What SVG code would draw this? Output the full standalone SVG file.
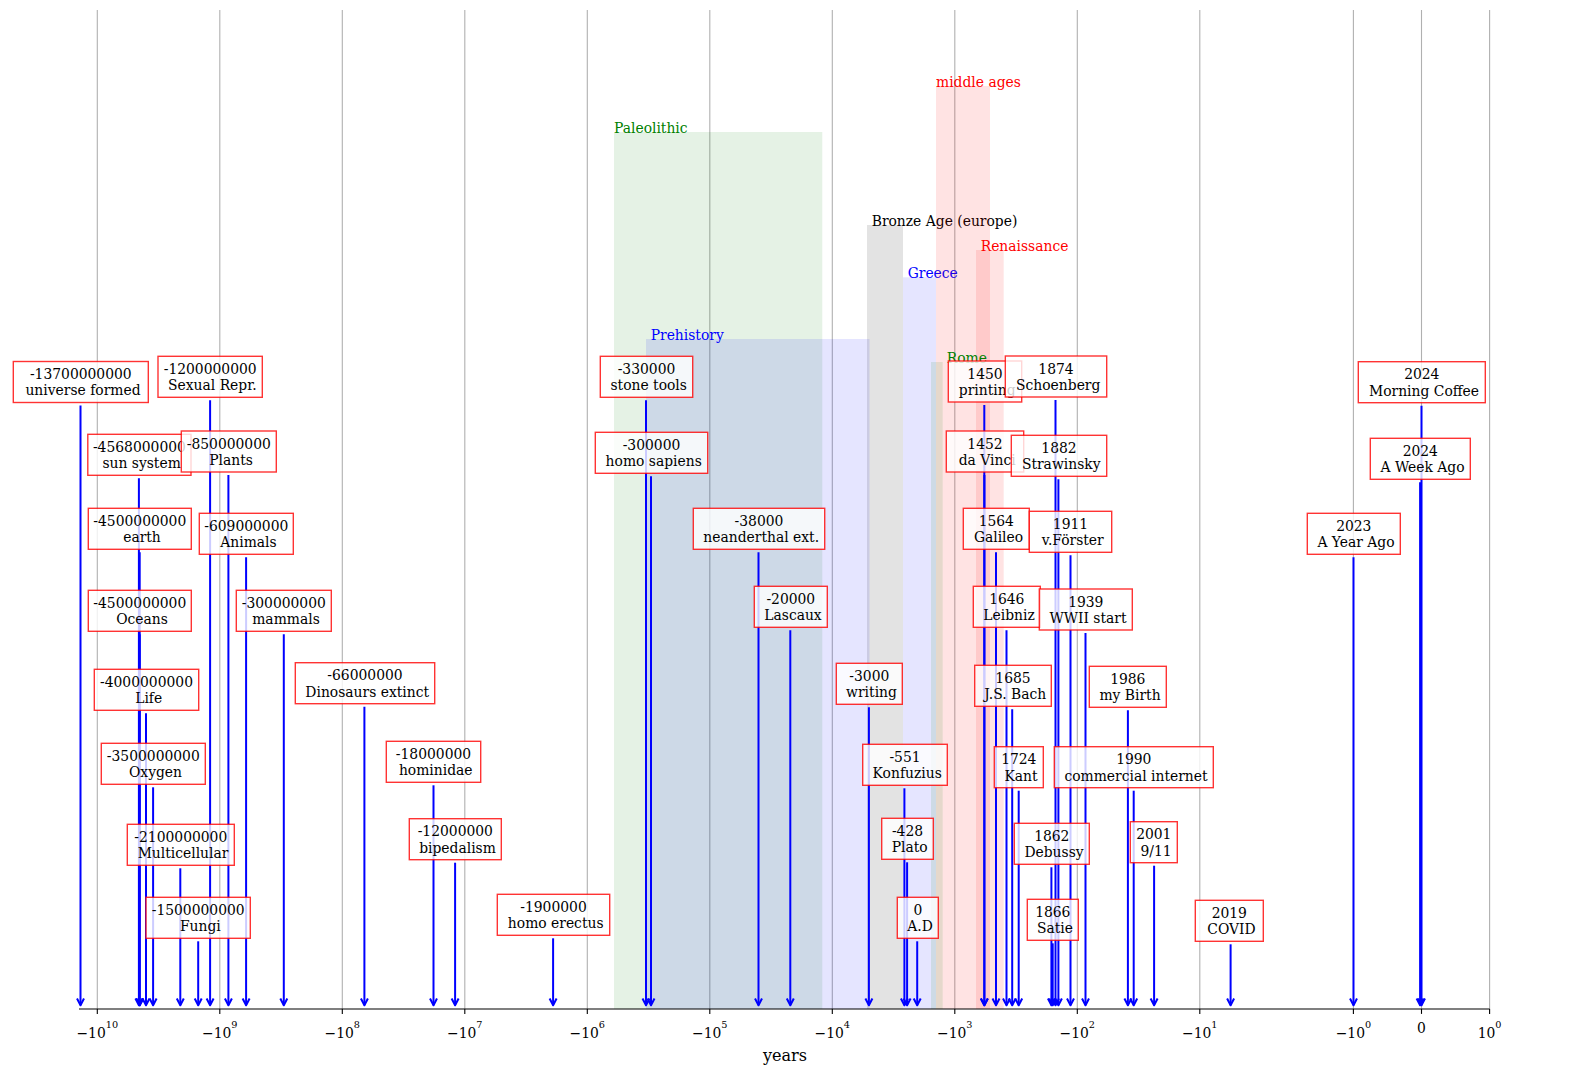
<svg xmlns="http://www.w3.org/2000/svg" width="1570" height="1074" viewBox="0 0 1570 1074">
<style>
text { font-family: "DejaVu Serif", "Liberation Serif", serif; font-size: 13.89px; }
.box rect { fill: #ffffff; fill-opacity: 0.8; stroke: #ff0000; stroke-opacity: 0.8; stroke-width: 1.4; }
.box text { fill: #000; text-anchor: middle; }
.conn line { stroke: #0000ff; stroke-width: 2; marker-end: url(#ah); }
.grid line { stroke: #b0b0b0; stroke-width: 1.1; }
.ticks line { stroke: #000; stroke-width: 1.1; }
.tl { text-anchor: middle; fill: #000; }
.sup { font-size: 9.7px; }
.g { fill: #008000; fill-opacity: 0.1; }
.b { fill: #0000ff; fill-opacity: 0.1; }
.r { fill: #ff0000; fill-opacity: 0.11; }
.k { fill: #000000; fill-opacity: 0.11; }
</style>
<defs>
<marker id="ah" markerUnits="userSpaceOnUse" orient="auto" refX="0" refY="0" markerWidth="14" markerHeight="14" overflow="visible">
<path d="M-6.8,-3.5 L0,0 L-6.8,3.5" fill="none" stroke="#0000ff" stroke-width="2" stroke-linejoin="round"/>
</marker>
</defs>
<rect width="1570" height="1074" fill="#ffffff"/>
<g id="grid" class="grid">
<line x1="97.3" y1="10" x2="97.3" y2="1009"/>
<line x1="219.8" y1="10" x2="219.8" y2="1009"/>
<line x1="342.3" y1="10" x2="342.3" y2="1009"/>
<line x1="464.8" y1="10" x2="464.8" y2="1009"/>
<line x1="587.3" y1="10" x2="587.3" y2="1009"/>
<line x1="709.8" y1="10" x2="709.8" y2="1009"/>
<line x1="832.3" y1="10" x2="832.3" y2="1009"/>
<line x1="954.8" y1="10" x2="954.8" y2="1009"/>
<line x1="1077.3" y1="10" x2="1077.3" y2="1009"/>
<line x1="1199.8" y1="10" x2="1199.8" y2="1009"/>
<line x1="1353.4" y1="10" x2="1353.4" y2="1009"/>
<line x1="1421.5" y1="10" x2="1421.5" y2="1009"/>
<line x1="1489.6" y1="10" x2="1489.6" y2="1009"/>
</g>
<g id="span-paleolithic"><rect class="g" x="614" y="132" width="208.3" height="877"/><text x="614" y="132.5" fill="#008000">Paleolithic</text></g>
<g id="span-prehistory"><rect class="b" x="646" y="339" width="223.5" height="670"/><text x="650.7" y="339.5" fill="#0000ff">Prehistory</text></g>
<g id="span-bronze-age"><rect class="k" x="867" y="225" width="36" height="784"/><text x="871.7" y="225.5" fill="#000">Bronze Age (europe)</text></g>
<g id="span-greece"><rect class="b" x="903" y="277.3" width="33" height="731.7"/><text x="907.7" y="277.8" fill="#0000ff">Greece</text></g>
<g id="span-middle-ages"><rect class="r" x="936" y="86" width="54" height="923"/><text x="936" y="86.5" fill="#ff0000">middle ages</text></g>
<g id="span-renaissance"><rect class="r" x="976" y="250" width="27.7" height="759"/><text x="980.7" y="250.5" fill="#ff0000">Renaissance</text></g>
<g id="span-rome"><rect class="g" x="931" y="362" width="11.7" height="647"/><text x="946.7" y="362.5" fill="#008000">Rome</text></g>
<g id="connectors" class="conn">
<line x1="80.5" y1="405.5" x2="80.5" y2="1005.3"/>
<line x1="138.9" y1="478.3" x2="138.9" y2="1005.3"/>
<line x1="139.7" y1="552.3" x2="139.7" y2="1005.3"/>
<line x1="139.7" y1="634.3" x2="139.7" y2="1005.3"/>
<line x1="146.0" y1="713.3" x2="146.0" y2="1005.3"/>
<line x1="153.1" y1="787.3" x2="153.1" y2="1005.3"/>
<line x1="180.3" y1="868.3" x2="180.3" y2="1005.3"/>
<line x1="198.2" y1="941.3" x2="198.2" y2="1005.3"/>
<line x1="210.1" y1="400.3" x2="210.1" y2="1005.3"/>
<line x1="228.4" y1="475" x2="228.4" y2="1005.3"/>
<line x1="246.1" y1="557.3" x2="246.1" y2="1005.3"/>
<line x1="283.8" y1="634.3" x2="283.8" y2="1005.3"/>
<line x1="364.4" y1="706.7" x2="364.4" y2="1005.3"/>
<line x1="433.5" y1="785.3" x2="433.5" y2="1005.3"/>
<line x1="455.1" y1="862.7" x2="455.1" y2="1005.3"/>
<line x1="553.1" y1="938.3" x2="553.1" y2="1005.3"/>
<line x1="646.0" y1="400.3" x2="646.0" y2="1005.3"/>
<line x1="651.0" y1="476.3" x2="651.0" y2="1005.3"/>
<line x1="758.5" y1="552.3" x2="758.5" y2="1005.3"/>
<line x1="790.3" y1="630.3" x2="790.3" y2="1005.3"/>
<line x1="868.9" y1="707.3" x2="868.9" y2="1005.3"/>
<line x1="904.4" y1="788.3" x2="904.4" y2="1005.3"/>
<line x1="907.1" y1="862.3" x2="907.1" y2="1005.3"/>
<line x1="917.2" y1="941.3" x2="917.2" y2="1005.3"/>
<line x1="984.3" y1="405" x2="984.3" y2="1005.3"/>
<line x1="984.4" y1="475" x2="984.4" y2="1005.3"/>
<line x1="996.0" y1="552.3" x2="996.0" y2="1005.3"/>
<line x1="1006.5" y1="630.3" x2="1006.5" y2="1005.3"/>
<line x1="1012.2" y1="709.3" x2="1012.2" y2="1005.3"/>
<line x1="1018.7" y1="790.7" x2="1018.7" y2="1005.3"/>
<line x1="1051.4" y1="867.3" x2="1051.4" y2="1005.3"/>
<line x1="1052.7" y1="943.3" x2="1052.7" y2="1005.3"/>
<line x1="1055.5" y1="400" x2="1055.5" y2="1005.3"/>
<line x1="1058.4" y1="479.3" x2="1058.4" y2="1005.3"/>
<line x1="1070.5" y1="555.3" x2="1070.5" y2="1005.3"/>
<line x1="1085.5" y1="633" x2="1085.5" y2="1005.3"/>
<line x1="1127.9" y1="710.3" x2="1127.9" y2="1005.3"/>
<line x1="1133.7" y1="790.7" x2="1133.7" y2="1005.3"/>
<line x1="1154.1" y1="865.7" x2="1154.1" y2="1005.3"/>
<line x1="1230.6" y1="944.3" x2="1230.6" y2="1005.3"/>
<line x1="1353.5" y1="557.3" x2="1353.5" y2="1005.3"/>
<line x1="1421.5" y1="405.7" x2="1421.5" y2="1005.3"/>
<line x1="1420.1" y1="482.3" x2="1420.1" y2="1005.3"/>
</g>
<g id="ev-universe-formed" class="box"><rect x="13.3" y="361.5" width="135" height="41"/><text x="80.8" y="379">-13700000000</text><text x="83" y="395.3">universe formed</text></g>
<g id="ev-sun-system" class="box"><rect x="87.8" y="434.3" width="103.2" height="41"/><text x="139.4" y="451.8">-4568000000</text><text x="141.6" y="468.1">sun system</text></g>
<g id="ev-earth" class="box"><rect x="88.3" y="508.3" width="103" height="41"/><text x="139.8" y="525.8">-4500000000</text><text x="142" y="542.1">earth</text></g>
<g id="ev-oceans" class="box"><rect x="88.3" y="590.3" width="103" height="41"/><text x="139.8" y="607.8">-4500000000</text><text x="142" y="624.1">Oceans</text></g>
<g id="ev-life" class="box"><rect x="94.3" y="669.3" width="104.4" height="41"/><text x="146.5" y="686.8">-4000000000</text><text x="148.7" y="703.1">Life</text></g>
<g id="ev-oxygen" class="box"><rect x="101.3" y="743.3" width="104" height="41"/><text x="153.3" y="760.8">-3500000000</text><text x="155.5" y="777.1">Oxygen</text></g>
<g id="ev-multicellular" class="box"><rect x="127.3" y="824.3" width="107" height="41"/><text x="180.8" y="841.8">-2100000000</text><text x="183" y="858.1">Multicellular</text></g>
<g id="ev-fungi" class="box"><rect x="146" y="897.3" width="104.3" height="41"/><text x="198.2" y="914.8">-1500000000</text><text x="200.4" y="931.1">Fungi</text></g>
<g id="ev-sexual-repr" class="box"><rect x="158" y="356.3" width="104.3" height="41"/><text x="210.2" y="373.8">-1200000000</text><text x="212.4" y="390.1">Sexual Repr.</text></g>
<g id="ev-plants" class="box"><rect x="181.3" y="431" width="95" height="41"/><text x="228.8" y="448.5">-850000000</text><text x="231" y="464.8">Plants</text></g>
<g id="ev-animals" class="box"><rect x="199.3" y="513.3" width="94" height="41"/><text x="246.3" y="530.8">-609000000</text><text x="248.5" y="547.1">Animals</text></g>
<g id="ev-mammals" class="box"><rect x="236.3" y="590.3" width="95" height="41"/><text x="283.8" y="607.8">-300000000</text><text x="286" y="624.1">mammals</text></g>
<g id="ev-dinosaurs" class="box"><rect x="295.3" y="662.7" width="139.4" height="41"/><text x="365" y="680.2">-66000000</text><text x="367.2" y="696.5">Dinosaurs extinct</text></g>
<g id="ev-hominidae" class="box"><rect x="386.3" y="741.3" width="94.4" height="41"/><text x="433.5" y="758.8">-18000000</text><text x="435.7" y="775.1">hominidae</text></g>
<g id="ev-bipedalism" class="box"><rect x="409.3" y="818.7" width="92" height="41"/><text x="455.3" y="836.2">-12000000</text><text x="457.5" y="852.5">bipedalism</text></g>
<g id="ev-homo-erectus" class="box"><rect x="497.3" y="894.3" width="112.4" height="41"/><text x="553.5" y="911.8">-1900000</text><text x="555.7" y="928.1">homo erectus</text></g>
<g id="ev-stone-tools" class="box"><rect x="600.3" y="356.3" width="92.4" height="41"/><text x="646.5" y="373.8">-330000</text><text x="648.7" y="390.1">stone tools</text></g>
<g id="ev-homo-sapiens" class="box"><rect x="595.3" y="432.3" width="112.4" height="41"/><text x="651.5" y="449.8">-300000</text><text x="653.7" y="466.1">homo sapiens</text></g>
<g id="ev-neanderthal" class="box"><rect x="693.3" y="508.3" width="131.4" height="41"/><text x="759" y="525.8">-38000</text><text x="761.2" y="542.1">neanderthal ext.</text></g>
<g id="ev-lascaux" class="box"><rect x="754.3" y="586.3" width="73" height="41"/><text x="790.8" y="603.8">-20000</text><text x="793" y="620.1">Lascaux</text></g>
<g id="ev-writing" class="box"><rect x="836.3" y="663.3" width="66" height="41"/><text x="869.3" y="680.8">-3000</text><text x="871.5" y="697.1">writing</text></g>
<g id="ev-konfuzius" class="box"><rect x="862.7" y="744.3" width="84.6" height="41"/><text x="905" y="761.8">-551</text><text x="907.2" y="778.1">Konfuzius</text></g>
<g id="ev-plato" class="box"><rect x="881.7" y="818.3" width="51.6" height="41"/><text x="907.5" y="835.8">-428</text><text x="909.7" y="852.1">Plato</text></g>
<g id="ev-ad" class="box"><rect x="897.3" y="897.3" width="41" height="41"/><text x="917.8" y="914.8">0</text><text x="920" y="931.1">A.D</text></g>
<g id="ev-printing" class="box"><rect x="948.3" y="361" width="73.4" height="41"/><text x="985" y="378.5">1450</text><text x="987.2" y="394.8">printing</text></g>
<g id="ev-da-vinci" class="box"><rect x="946.3" y="431" width="77.4" height="41"/><text x="985" y="448.5">1452</text><text x="987.2" y="464.8">da Vinci</text></g>
<g id="ev-galileo" class="box"><rect x="963.3" y="508.3" width="66" height="41"/><text x="996.3" y="525.8">1564</text><text x="998.5" y="542.1">Galileo</text></g>
<g id="ev-leibniz" class="box"><rect x="973.3" y="586.3" width="67" height="41"/><text x="1006.8" y="603.8">1646</text><text x="1009" y="620.1">Leibniz</text></g>
<g id="ev-bach" class="box"><rect x="974.7" y="665.3" width="76.6" height="41"/><text x="1013" y="682.8">1685</text><text x="1015.2" y="699.1">J.S. Bach</text></g>
<g id="ev-kant" class="box"><rect x="994.3" y="746.7" width="49" height="41"/><text x="1018.8" y="764.2">1724</text><text x="1021" y="780.5">Kant</text></g>
<g id="ev-debussy" class="box"><rect x="1014.3" y="823.3" width="75" height="41"/><text x="1051.8" y="840.8">1862</text><text x="1054" y="857.1">Debussy</text></g>
<g id="ev-satie" class="box"><rect x="1027.3" y="899.3" width="51" height="41"/><text x="1052.8" y="916.8">1866</text><text x="1055" y="933.1">Satie</text></g>
<g id="ev-schoenberg" class="box"><rect x="1005.3" y="356" width="101.4" height="41"/><text x="1056" y="373.5">1874</text><text x="1058.2" y="389.8">Schoenberg</text></g>
<g id="ev-strawinsky" class="box"><rect x="1011.3" y="435.3" width="95.4" height="41"/><text x="1059" y="452.8">1882</text><text x="1061.2" y="469.1">Strawinsky</text></g>
<g id="ev-foerster" class="box"><rect x="1029.3" y="511.3" width="82.4" height="41"/><text x="1070.5" y="528.8">1911</text><text x="1072.7" y="545.1">v.Förster</text></g>
<g id="ev-wwii" class="box"><rect x="1039.3" y="589" width="93" height="41"/><text x="1085.8" y="606.5">1939</text><text x="1088" y="622.8">WWII start</text></g>
<g id="ev-my-birth" class="box"><rect x="1089.3" y="666.3" width="77" height="41"/><text x="1127.8" y="683.8">1986</text><text x="1130" y="700.1">my Birth</text></g>
<g id="ev-internet" class="box"><rect x="1054.3" y="746.7" width="159" height="41"/><text x="1133.8" y="764.2">1990</text><text x="1136" y="780.5">commercial internet</text></g>
<g id="ev-911" class="box"><rect x="1130.3" y="821.7" width="47" height="41"/><text x="1153.8" y="839.2">2001</text><text x="1156" y="855.5">9/11</text></g>
<g id="ev-covid" class="box"><rect x="1195.3" y="900.3" width="68" height="41"/><text x="1229.3" y="917.8">2019</text><text x="1231.5" y="934.1">COVID</text></g>
<g id="ev-year-ago" class="box"><rect x="1307.3" y="513.3" width="93" height="41"/><text x="1353.8" y="530.8">2023</text><text x="1356" y="547.1">A Year Ago</text></g>
<g id="ev-morning-coffee" class="box"><rect x="1358.3" y="361.7" width="127" height="41"/><text x="1421.8" y="379.2">2024</text><text x="1424" y="395.5">Morning Coffee</text></g>
<g id="ev-week-ago" class="box"><rect x="1370.3" y="438.3" width="100" height="41"/><text x="1420.3" y="455.8">2024</text><text x="1422.5" y="472.1">A Week Ago</text></g>
<g id="x-axis">
<line x1="79" y1="1009" x2="1489.6" y2="1009" stroke="#000" stroke-width="1.1"/>
<g class="ticks">
<line x1="97.3" y1="1009" x2="97.3" y2="1013.9"/>
<line x1="219.8" y1="1009" x2="219.8" y2="1013.9"/>
<line x1="342.3" y1="1009" x2="342.3" y2="1013.9"/>
<line x1="464.8" y1="1009" x2="464.8" y2="1013.9"/>
<line x1="587.3" y1="1009" x2="587.3" y2="1013.9"/>
<line x1="709.8" y1="1009" x2="709.8" y2="1013.9"/>
<line x1="832.3" y1="1009" x2="832.3" y2="1013.9"/>
<line x1="954.8" y1="1009" x2="954.8" y2="1013.9"/>
<line x1="1077.3" y1="1009" x2="1077.3" y2="1013.9"/>
<line x1="1199.8" y1="1009" x2="1199.8" y2="1013.9"/>
<line x1="1353.4" y1="1009" x2="1353.4" y2="1013.9"/>
<line x1="1421.5" y1="1009" x2="1421.5" y2="1013.9"/>
<line x1="1489.6" y1="1009" x2="1489.6" y2="1013.9"/>
</g>
<text class="tl" x="97.3" y="1037.5">−10<tspan class="sup" dy="-9.7">10</tspan></text>
<text class="tl" x="219.8" y="1037.5">−10<tspan class="sup" dy="-9.7">9</tspan></text>
<text class="tl" x="342.3" y="1037.5">−10<tspan class="sup" dy="-9.7">8</tspan></text>
<text class="tl" x="464.8" y="1037.5">−10<tspan class="sup" dy="-9.7">7</tspan></text>
<text class="tl" x="587.3" y="1037.5">−10<tspan class="sup" dy="-9.7">6</tspan></text>
<text class="tl" x="709.8" y="1037.5">−10<tspan class="sup" dy="-9.7">5</tspan></text>
<text class="tl" x="832.3" y="1037.5">−10<tspan class="sup" dy="-9.7">4</tspan></text>
<text class="tl" x="954.8" y="1037.5">−10<tspan class="sup" dy="-9.7">3</tspan></text>
<text class="tl" x="1077.3" y="1037.5">−10<tspan class="sup" dy="-9.7">2</tspan></text>
<text class="tl" x="1199.8" y="1037.5">−10<tspan class="sup" dy="-9.7">1</tspan></text>
<text class="tl" x="1353.4" y="1037.5">−10<tspan class="sup" dy="-9.7">0</tspan></text>
<text class="tl" x="1421.5" y="1032.5">0</text>
<text class="tl" x="1489.6" y="1037.5">10<tspan class="sup" dy="-9.7">0</tspan></text>
<text class="tl" x="785" y="1060.7" style="font-size:16.1px">years</text>
</g>
</svg>
